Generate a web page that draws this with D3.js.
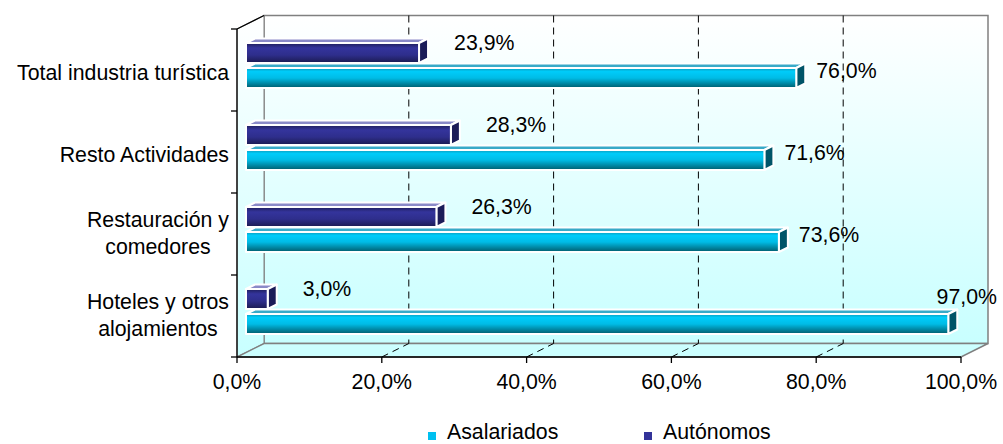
<!DOCTYPE html>
<html>
<head>
<meta charset="utf-8">
<script src="https://cdn.jsdelivr.net/npm/d3@7"></script>
<style>
  body { margin: 0; background: #fff; }
  text { font-family: "Liberation Sans", Arial, sans-serif; font-size: 21.3px; fill: #000; }
</style>
</head>
<body>
<script>
// Chart data
var categories = ["Total industria turística", "Resto Actividades", "Restauración y\ncomedores", "Hoteles y otros\nalojamientos"];
var asalariados = [76.0, 71.6, 73.6, 97.0];
var autonomos = [23.9, 28.3, 26.3, 3.0];
var seriesNames = ["Asalariados", "Autónomos"];
var xTicks = [0, 20, 40, 60, 80, 100];

var width = 1003;
var height = 444;

var svg = d3.select("body")
    .append("svg")
    .attr("width", width)
    .attr("height", height);

// Front plane scales
var x = d3.scaleLinear().domain([0, 100]).range([237, 961]);
var y = d3.scaleBand().domain(categories).range([29, 357]);
var sub = d3.scaleBand().domain(["Autónomos", "Asalariados"]).range([18.5, 63.5]).paddingInner(0.2);

// 3D depth offset
var DX = 27, DY = -13.5;
function P(v, yy, d) { return [x(v) + DX * d, yy + DY * d]; }
function poly(pts) { return pts.map(function (p) { return p.join(","); }).join(" "); }

var fmt = function (v) { return d3.format(".1f")(v).replace(".", ",") + "%"; };

var defs = svg.append("defs");
var wallGrad = defs.append("linearGradient").attr("id", "wall")
    .attr("x1", 0).attr("y1", 0).attr("x2", 0).attr("y2", 1);
wallGrad.append("stop").attr("offset", "0%").attr("stop-color", "#ffffff");
wallGrad.append("stop").attr("offset", "100%").attr("stop-color", "#c8ffff");

var cyanGrad = defs.append("linearGradient").attr("id", "cyan")
    .attr("x1", 0).attr("y1", 0).attr("x2", 0).attr("y2", 1);
cyanGrad.append("stop").attr("offset", "0%").attr("stop-color", "#0a9cbc");
cyanGrad.append("stop").attr("offset", "18%").attr("stop-color", "#00ccfa");
cyanGrad.append("stop").attr("offset", "50%").attr("stop-color", "#00bce6");
cyanGrad.append("stop").attr("offset", "100%").attr("stop-color", "#005c6c");

var navyGrad = defs.append("linearGradient").attr("id", "navy")
    .attr("x1", 0).attr("y1", 0).attr("x2", 0).attr("y2", 1);
navyGrad.append("stop").attr("offset", "0%").attr("stop-color", "#1e1e5a");
navyGrad.append("stop").attr("offset", "25%").attr("stop-color", "#34349c");
navyGrad.append("stop").attr("offset", "60%").attr("stop-color", "#2e2e8c");
navyGrad.append("stop").attr("offset", "100%").attr("stop-color", "#1a1a50");

var y0 = y.range()[0], y1 = y.range()[1];

// Walls and floor
svg.append("polygon")
    .attr("points", poly([P(0, y0, 1), P(100, y0, 1), P(100, y1, 1), P(0, y1, 1)]))
    .attr("fill", "url(#wall)").attr("stroke", "#808080").attr("stroke-width", 1.5);
svg.append("polygon")
    .attr("points", poly([P(0, y0, 0), P(0, y0, 1), P(0, y1, 1), P(0, y1, 0)]))
    .attr("fill", "url(#wall)").attr("stroke", "#808080").attr("stroke-width", 1);
svg.append("polygon")
    .attr("points", poly([P(0, y1, 0), P(100, y1, 0), P(100, y1, 1), P(0, y1, 1)]))
    .attr("fill", "#ccffff").attr("stroke", "#808080").attr("stroke-width", 1.5);

// Gridlines on back wall and floor
var grid = xTicks.filter(function (t) { return t > 0 && t < 100; });
svg.selectAll(".gridBack").data(grid).enter().append("line")
    .attr("x1", function (d) { return P(d, y0, 1)[0]; })
    .attr("y1", function (d) { return P(d, y0, 1)[1]; })
    .attr("x2", function (d) { return P(d, y1, 1)[0]; })
    .attr("y2", function (d) { return P(d, y1, 1)[1]; })
    .attr("stroke", "#000").attr("stroke-width", 1).attr("stroke-dasharray", "7,5");
svg.selectAll(".gridFloor").data(grid).enter().append("line")
    .attr("x1", function (d) { return P(d, y1, 0)[0]; })
    .attr("y1", function (d) { return P(d, y1, 0)[1]; })
    .attr("x2", function (d) { return P(d, y1, 1)[0]; })
    .attr("y2", function (d) { return P(d, y1, 1)[1]; })
    .attr("stroke", "#000").attr("stroke-width", 1).attr("stroke-dasharray", "7,5");

// Axes lines
svg.append("line").attr("x1", x(0)).attr("y1", y0).attr("x2", x(0)).attr("y2", y1)
    .attr("stroke", "#000").attr("stroke-width", 1.3);
svg.append("line").attr("x1", P(0, y0, 0)[0]).attr("y1", P(0, y0, 0)[1])
    .attr("x2", P(0, y0, 1)[0]).attr("y2", P(0, y0, 1)[1])
    .attr("stroke", "#000").attr("stroke-width", 1.3);
svg.append("line").attr("x1", x(0)).attr("y1", y1).attr("x2", x(100)).attr("y2", y1)
    .attr("stroke", "#000").attr("stroke-width", 1.3);

// Category ticks
var bounds = categories.map(function (c) { return y(c); }).concat([y1]);
svg.selectAll(".ytick").data(bounds).enter().append("line")
    .attr("x1", x(0) - 6).attr("x2", x(0)).attr("y1", function (d) { return d; }).attr("y2", function (d) { return d; })
    .attr("stroke", "#000").attr("stroke-width", 1.3);

// X ticks and labels
svg.selectAll(".xtick").data(xTicks).enter().append("line")
    .attr("x1", function (d) { return x(d); }).attr("x2", function (d) { return x(d); })
    .attr("y1", y1).attr("y2", y1 + 6)
    .attr("stroke", "#000").attr("stroke-width", 1.3);
svg.selectAll(".xlabel").data(xTicks).enter().append("text")
    .attr("x", function (d) { return x(d); }).attr("y", 389)
    .attr("text-anchor", "middle")
    .text(function (d) { return fmt(d); });

// Category labels
categories.forEach(function (c) {
    var lines = c.split("\n");
    var cy = y(c) + y.bandwidth() / 2;
    var g = svg.append("g");
    var texts = lines.map(function (l, i) {
        return g.append("text")
            .attr("y", cy + 9.5 - (lines.length > 1 ? 17 : 0) + i * 27)
            .text(l);
    });
    var maxW = d3.max(texts, function (t) { return t.node().getComputedTextLength(); });
    texts.forEach(function (t) {
        t.attr("x", 229 - maxW / 2).attr("text-anchor", "middle");
    });
});

// 3D bars
var styles = {
    "Asalariados": { front: "url(#cyan)", top: "#38aac8", side: "#005468", values: asalariados },
    "Autónomos": { front: "url(#navy)", top: "#8a8ac8", side: "#1c1c58", values: autonomos }
};

function drawBar(cat, name, v) {
    var s = styles[name];
    var t = y(cat) + sub(name), b = t + sub.bandwidth();
    var g = svg.append("g").attr("stroke", "#fff").attr("stroke-width", 2).attr("stroke-linejoin", "round");
    g.append("polygon").attr("points", poly([P(0, t, 1 / 3), P(v, t, 1 / 3), P(v, t, 2 / 3), P(0, t, 2 / 3)]))
        .attr("fill", s.top);
    g.append("polygon").attr("points", poly([P(v, t, 1 / 3), P(v, b, 1 / 3), P(v, b, 2 / 3), P(v, t, 2 / 3)]))
        .attr("fill", s.side);
    var f0 = P(0, t, 1 / 3), f1 = P(v, b, 1 / 3);
    g.append("rect").attr("x", f0[0]).attr("y", f0[1])
        .attr("width", f1[0] - f0[0]).attr("height", f1[1] - f0[1])
        .attr("fill", s.front);
}

categories.forEach(function (c, i) {
    drawBar(c, "Asalariados", asalariados[i]);
    drawBar(c, "Autónomos", autonomos[i]);
});

// Data labels
categories.forEach(function (c, i) {
    // Autónomos
    var ta = P(autonomos[i], y(c) + sub("Autónomos"), 1 / 3);
    svg.append("text").attr("x", ta[0] + 35).attr("y", ta[1] + 7).text(fmt(autonomos[i]));
    // Asalariados
    var ts = P(asalariados[i], y(c) + sub("Asalariados"), 1 / 3);
    var lbl = svg.append("text").attr("x", ts[0] + 20).attr("y", ts[1] + 10).text(fmt(asalariados[i]));
    var w = lbl.node().getComputedTextLength();
    if (ts[0] + 20 + w > 997) {
        lbl.attr("x", 997 - w).attr("y", ts[1] - 10);
    }
});

// Legend
var legendColors = { "Asalariados": "#00c0f0", "Autónomos": "#333399" };
var legendX = [428, 644];
seriesNames.forEach(function (n, i) {
    svg.append("rect").attr("x", legendX[i]).attr("y", 432).attr("width", 8).attr("height", 8)
        .attr("fill", legendColors[n]);
    svg.append("text").attr("x", legendX[i] + 19).attr("y", 439).text(n);
});
</script>
</body>
</html>
